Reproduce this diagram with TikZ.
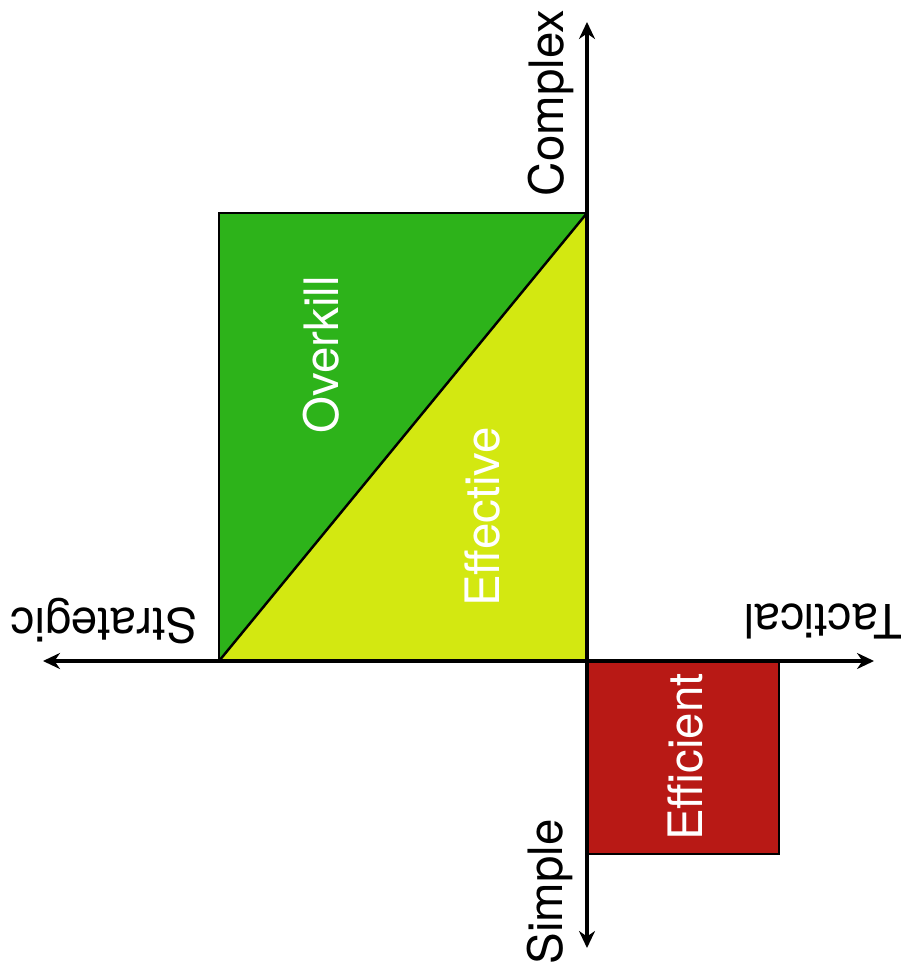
\documentclass[tikz,border=0pt]{standalone}
\usepackage{fontspec}
\setmainfont{TeX Gyre Heros}
\usetikzlibrary{arrows.meta, positioning, calc}
\definecolor{zonegreen}{HTML}{2DB31A}
\definecolor{zoneyellow}{HTML}{D3E811}
\definecolor{zonered}{HTML}{B81915}

\begin{document}
\begin{tikzpicture}[
  x=0.02cm, y=-0.02cm,
  axisline/.style={
    line width=2.1pt,
    {Stealth[length=0.34cm,width=0.32cm]}-{Stealth[length=0.34cm,width=0.32cm]}
  },
  zoneedge/.style={draw=black, line width=1.4pt},
  zonelabel/.style={text=white, rotate=90, inner sep=0pt, font=\fontsize{27}{31}\selectfont},
  axislabel/.style={text=black, rotate=#1, inner sep=0pt, font=\fontsize{27}{31}\selectfont}
]
  \useasboundingbox (0,0) rectangle (902,980);

  \coordinate (o) at (587,661);
  \coordinate (top) at (587,213);
  \coordinate (left) at (219,661);
  \coordinate (corner) at (219,213);
  \coordinate (redfar) at (779,854);

  \coordinate (west) at (43,661);
  \coordinate (east) at (874,661);
  \coordinate (north) at (587,22);
  \coordinate (south) at (587,948);

  \fill[zonegreen] (left) -- (corner) -- (top) -- cycle;
  \fill[zoneyellow] (left) -- (top) -- (o) -- cycle;
  \draw[zoneedge] (left) rectangle (top);
  \draw[zoneedge] (left) -- (top);
  \draw[zoneedge, fill=zonered] (o) rectangle (redfar);

  \draw[axisline] (west) -- (east);
  \draw[axisline] (south) -- (north);

  \node[zonelabel] (overkill) at (321,355) {Overkill};
  \node[zonelabel] (effective) at (482,517) {Effective};
  \node[zonelabel] (efficient) at (685,757) {Efficient};

  \node[axislabel=90] (complex) at (551,103) {Complex};
  \node[axislabel=90] (simple) at (550,892) {Simple};
  \node[axislabel=180] (strategic) at (104,621) {Strategic};
  \node[axislabel=180] (tactical) at (823,621) {Tactical};
\end{tikzpicture}
\end{document}
